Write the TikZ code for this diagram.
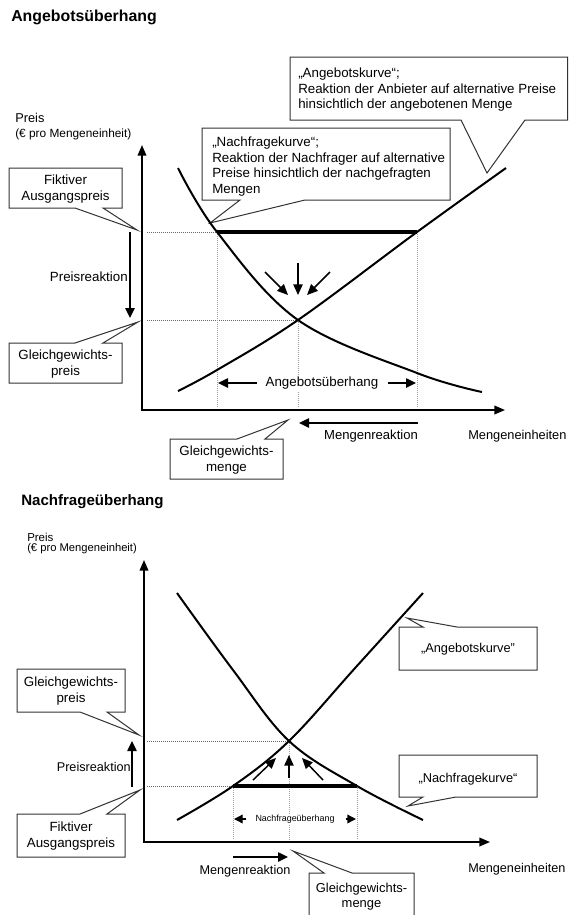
\documentclass[tikz,border=0pt]{standalone}
\usepackage{fontspec}
\setmainfont{Liberation Sans}
\usetikzlibrary{arrows.meta}
\begin{document}
\begin{tikzpicture}[x=0.75pt,y=-0.75pt,
  curve/.style={line width=1.5pt},
  axis/.style={line width=1.2pt,
    {Triangle[length=8pt,width=6.5pt]}-{Triangle[length=8pt,width=6.5pt]}},
  guide/.style={black!60, line width=0.75pt, dash pattern=on 0.75pt off 0.75pt},
  vguide/.style={black!38, line width=0.75pt, dash pattern=on 0.75pt off 0.75pt},
  surplus/.style={line width=2.3pt},
  react/.style={line width=1.1pt, -{Triangle[length=7.5pt,width=7pt]}},
  nudge/.style={line width=1.1pt, -{Triangle[length=8pt,width=7pt]}},
  tiny/.style={line width=1pt, -{Triangle[length=6.5pt,width=6.5pt]}},
  bubble/.style={draw=black!80, fill=white, line width=0.75pt, line join=miter},
  txt/.style={inner sep=0pt, font=\fontsize{10}{12}\selectfont},
  boxtxt/.style={inner sep=0pt, align=center, font=\fontsize{10}{12}\selectfont},
  longtxt/.style={inner sep=0pt, align=left, font=\fontsize{10}{11.6}\selectfont},
  heading/.style={inner sep=0pt, anchor=west, font=\bfseries},
]
\useasboundingbox (0,0) rectangle (569,915);

% ================= upper chart: Angebotsueberhang =================
\node[heading, font=\fontsize{11.9}{14}\selectfont\bfseries] (t1) at (11,17) {Angebotsüberhang};
\node[inner sep=0pt, anchor=west, font=\fontsize{9.6}{11}\selectfont] (p1) at (15,118) {Preis};
\node[inner sep=0pt, anchor=west, font=\fontsize{8.9}{10}\selectfont] (pe1) at (15,134) {(€ pro Mengeneinheit)};

\coordinate (O1) at (142,410);
\coordinate (E1) at (298,320);
\coordinate (D1) at (217,232);
\coordinate (S1) at (417,232);

% guide lines
\draw[guide] (147,232) -- (D1);
\draw[guide] (147,320) -- (E1);
\draw[vguide] (D1) -- (217,408);
\draw[vguide] (S1) -- (417,408);
\draw[vguide] (E1) -- (298,408);

% callouts
\draw[bubble] (290,57) -- (567.5,57) -- (567.5,120) -- (525,120) -- (487,173) -- (461,120) -- (290,120) -- cycle;
\node[longtxt, anchor=west] (ak1) at (298,90) {„Angebotskurve“;\\Reaktion der Anbieter auf alternative Preise\\hinsichtlich der angebotenen Menge};

\draw[bubble] (202,128) -- (450,128) -- (450,200) -- (305,200) -- (210,223) -- (240,200) -- (202,200) -- cycle;
\node[longtxt, anchor=west] (nk1) at (212,166.5) {„Nachfragekurve“;\\Reaktion der Nachfrager auf alternative\\Preise hinsichtlich der nachgefragten\\Mengen};

\draw[bubble] (9,168) -- (122,168) -- (122,208) -- (103,208) -- (137,230) -- (75,208) -- (9,208) -- cycle;
\node[boxtxt] (fa1) at (65.5,189) {Fiktiver\\Ausgangspreis};

\draw[bubble] (9,343) -- (75,343) -- (138,322) -- (103,343) -- (122,343) -- (122,383) -- (9,383) -- cycle;
\node[boxtxt] (gp1) at (65.5,364) {Gleichgewichts-\\preis};

\draw[bubble] (170,439) -- (237,439) -- (288,420) -- (265,439) -- (283,439) -- (283,479) -- (170,479) -- cycle;
\node[boxtxt] (gm1) at (226.5,460) {Gleichgewichts-\\menge};

% axes
\draw[axis] (142,145) -- (O1) -- (505,410);

% demand and supply
\draw[curve] plot[smooth, tension=0.6] coordinates {(178,168) (217,232) (298,320) (417,373) (482,392)};
\draw[curve] plot[smooth, tension=0.6] coordinates {(178,391) (217,370) (298,320) (417,232) (506,168)};
\draw[surplus] (D1) -- (S1);

% adjustment arrows
\draw[react] (130,232) -- (130,318);
\node[txt, anchor=east] (pr1) at (128,277) {Preisreaktion};
\draw[nudge] (298,263) -- (298,295);
\draw[nudge] (265,272) -- (288,295);
\draw[nudge] (330,272) -- (307,295);

\node[txt, fill=white, inner sep=1pt] (au1) at (322,383) {Angebotsüberhang};
\draw[react] (257,383) -- (218,383);
\draw[react] (388,383) -- (416,383);

\draw[react] (418,423) -- (299,423);
\node[txt, font=\fontsize{9.8}{12}\selectfont] (mr1) at (371,436) {Mengenreaktion};
\node[txt, anchor=west, font=\fontsize{9.6}{12}\selectfont] (me1) at (468,436) {Mengeneinheiten};

% ================= lower chart: Nachfrageueberhang =================
\node[heading, font=\fontsize{11.3}{14}\selectfont\bfseries] (t2) at (21,502) {Nachfrageüberhang};
\node[inner sep=0pt, anchor=west, font=\fontsize{8.6}{10}\selectfont] (p2) at (27,537) {Preis};
\node[inner sep=0pt, anchor=west, font=\fontsize{8.4}{10}\selectfont] (pe2) at (27,548.5) {(€ pro Mengeneinheit)};

\coordinate (O2) at (144,842);
\coordinate (E2) at (289,741);
\coordinate (D2) at (357,786);
\coordinate (S2) at (233,786);

% guide lines
\draw[guide] (147,741) -- (E2);
\draw[guide] (147,786) -- (S2);
\draw[vguide] (S2) -- (233,840);
\draw[vguide] (D2) -- (357,840);
\draw[vguide] (E2) -- (289,840);

% callouts
\draw[bubble] (17,669) -- (125,669) -- (125,712) -- (107,712) -- (139,735) -- (80,712) -- (17,712) -- cycle;
\node[boxtxt] (gp2) at (71,691.5) {Gleichgewichts-\\preis};

\draw[bubble] (17,814) -- (80,814) -- (140,790) -- (107,814) -- (125,814) -- (125,857) -- (17,857) -- cycle;
\node[boxtxt] (fa2) at (71,836) {Fiktiver\\Ausgangspreis};

\draw[bubble] (399,627) -- (423,627) -- (407,618) -- (457,627) -- (537,627) -- (537,670) -- (399,670) -- cycle;
\node[txt, font=\fontsize{9.6}{12}\selectfont] (ak2) at (468,649) {„Angebotskurve"};

\draw[bubble] (399,755) -- (537,755) -- (537,797) -- (456,797) -- (408,806) -- (423,797) -- (399,797) -- cycle;
\node[txt, font=\fontsize{9.6}{12}\selectfont] (nk2) at (468,779) {„Nachfragekurve“};

\draw[bubble] (309,873) -- (324,873) -- (293,851) -- (352,873) -- (414,873) -- (414,920) -- (309,920) -- cycle;
\node[boxtxt, font=\fontsize{9.7}{11.2}\selectfont] (gm2) at (361.5,897) {Gleichgewichts-\\menge};

% axes
\draw[axis] (144,560) -- (O2) -- (490,842);

% demand and supply
\draw[curve] plot[smooth, tension=0.6] coordinates {(177,593) (233,670) (289,741) (357,786) (423,820)};
\draw[curve] plot[smooth, tension=0.6] coordinates {(177,820) (233,786) (289,741) (356,667) (423,593)};
\draw[surplus] (S2) -- (D2);

% adjustment arrows
\draw[react] (132,787) -- (132,741);
\node[txt, anchor=east, font=\fontsize{9.5}{12}\selectfont] (pr2) at (131,767) {Preisreaktion};
\draw[nudge] (289,778) -- (289,755);
\draw[nudge] (253,780) -- (276,758);
\draw[nudge] (323,780) -- (302,758);

\node[txt, fill=white, inner sep=1pt, font=\fontsize{6.7}{8}\selectfont] (nu2) at (295,819) {Nachfrageüberhang};
\draw[tiny] (246,819) -- (234,819);
\draw[tiny] (346,819) -- (356,819);

\draw[react] (233,857) -- (288,857);
\node[txt, font=\fontsize{9.5}{12}\selectfont] (mr2) at (245,871) {Mengenreaktion};
\node[txt, anchor=west, font=\fontsize{9.5}{12}\selectfont] (me2) at (468,869) {Mengeneinheiten};
\end{tikzpicture}
\end{document}
